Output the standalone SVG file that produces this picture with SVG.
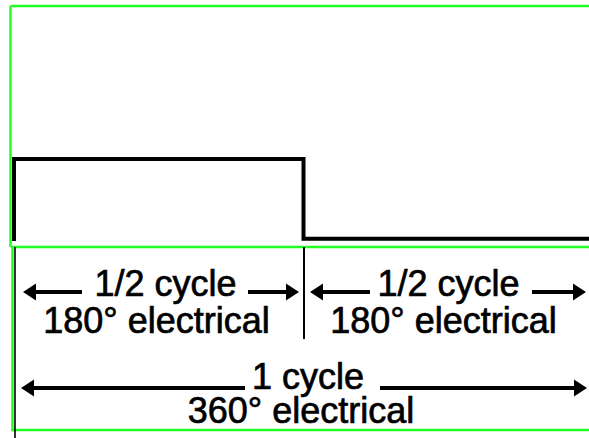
<svg xmlns="http://www.w3.org/2000/svg" width="589" height="438" viewBox="0 0 589 438">
<style>
.g{stroke:#22ff22;stroke-width:2.5;fill:none}
.w{stroke:#000;stroke-width:4;fill:none;stroke-linejoin:miter}
.a{stroke:#000;stroke-width:4;fill:none}
.t{font-family:"Liberation Sans",Arial,sans-serif;font-size:36px;fill:#000;stroke:#000;stroke-width:0.7;text-anchor:middle}
</style>
<defs>
<marker id="ah" markerUnits="userSpaceOnUse" markerWidth="14" markerHeight="18" viewBox="0 -9 14 18" refX="0" refY="0" orient="auto-start-reverse">
<path d="M0,-8.5 L13,0 L0,8.5 Z" fill="#000"/>
</marker>
</defs>
<rect width="589" height="438" fill="#fff"/>
<g id="frame">
<path class="g" d="M10.5,6 H589 M10.5,6 V247 M11,247 H589 M12.5,247 V430 M11,430 H589"/>
<path d="M15,247 V438" stroke="#000" stroke-width="1.6"/>
<path d="M304,247 V339" stroke="#000" stroke-width="2"/>
</g>
<g id="waveform">
<polyline class="w" points="14,241 14,159 303.5,159 303.5,238.7 589,238.7"/>
</g>
<g id="connectors">
<line class="a" x1="36" y1="292" x2="82" y2="292" marker-start="url(#ah)"/>
<line class="a" x1="248" y1="292" x2="286" y2="292" marker-end="url(#ah)"/>
<line class="a" x1="323" y1="292" x2="370" y2="292" marker-start="url(#ah)"/>
<line class="a" x1="532" y1="292" x2="573" y2="292" marker-end="url(#ah)"/>
<line class="a" x1="34" y1="388" x2="245" y2="388" marker-start="url(#ah)"/>
<line class="a" x1="380" y1="388" x2="574" y2="388" marker-end="url(#ah)"/>
</g>
<g id="half1">
<text class="t" x="165.5" y="296">1/2 cycle</text>
<text class="t" x="156.5" y="333">180° electrical</text>
</g>
<g id="half2">
<text class="t" x="448.5" y="296">1/2 cycle</text>
<text class="t" x="443.5" y="333">180° electrical</text>
</g>
<g id="full">
<text class="t" x="308" y="389">1 cycle</text>
<text class="t" x="301" y="423">360° electrical</text>
</g>
</svg>
